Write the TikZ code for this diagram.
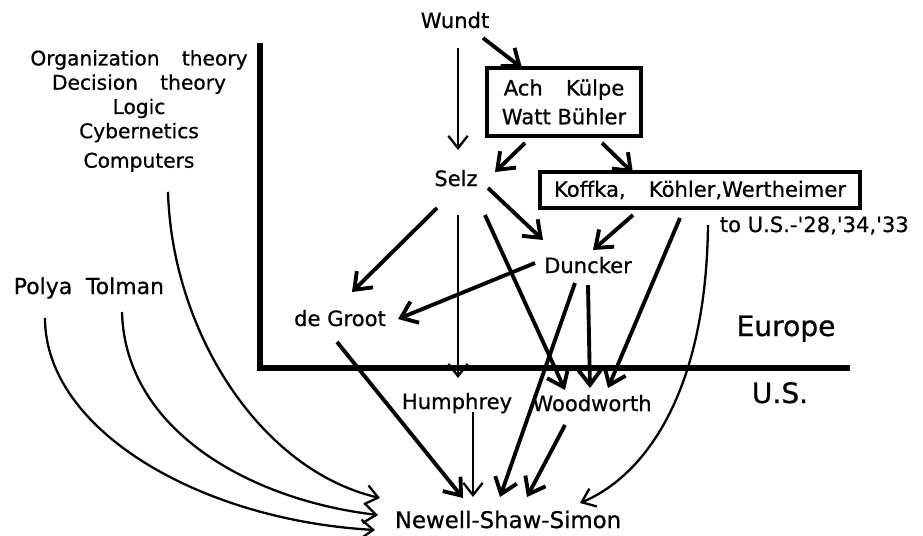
\documentclass[tikz,border=0pt]{standalone}
\usepackage{fontspec}
\setmainfont[FakeBold=0.7]{DejaVu Sans}
\usetikzlibrary{arrows.meta}

\tikzset{
  lbl/.style={font=\fontsize{12}{13}\selectfont, inner sep=2pt, text height=1.5ex, text depth=.25ex},
  groupbox/.style={font=\fontsize{12}{16.4}\selectfont, draw, line width=2.4pt, align=center, inner sep=2pt},
  link/.style={line width=2.2pt, -{Straight Barb[length=8.5pt,width=13pt]}},
  thinlink/.style={line width=1.3pt, -{Straight Barb[length=7pt,width=11pt]}},
  divider/.style={line width=3.6pt},
}

\begin{document}
\begin{tikzpicture}[x=0.02cm, y=-0.02cm]
\useasboundingbox (0,0) rectangle (923,536);

% Europe / U.S. frame
\draw[divider] (260,43) -- (260,368) -- (850,368);
\node[lbl, font=\fontsize{16}{18}\selectfont] (europe) at (786,330) {Europe};
\node[lbl, font=\fontsize{16}{18}\selectfont] (us) at (780,397) {U.S.};

% european side
\node[lbl] (wundt) at (455,22) {Wundt};
\node[groupbox, minimum width=3.08cm, minimum height=1.36cm] (wurzburg) at (564,102)
  {Ach\hspace{1.1em}Külpe\\Watt Bühler};
\node[lbl] (selz) at (456,180) {Selz};
\node[groupbox, minimum width=6.4cm, minimum height=0.72cm] (gestalt) at (700,190)
  {Koffka,\hspace{1.1em}Köhler,Wertheimer};
\node[lbl, anchor=west] (emigr) at (716,226) {to U.S.-\textquotesingle28,\textquotesingle34,\textquotesingle33};
\node[lbl] (duncker) at (588,267) {Duncker};
\node[lbl] (degroot) at (340,320) {de Groot};

% american side
\node[lbl] (humphrey) at (457,403) {Humphrey};
\node[lbl] (woodworth) at (592,405) {Woodworth};
\node[lbl, font=\fontsize{13}{14}\selectfont] (nss) at (508,522) {Newell-Shaw-Simon};

% other sources
\node[font=\fontsize{11.5}{13.8}\selectfont, align=center, inner sep=2pt] (fields) at (139,111)
  {Organization\hspace{1.1em}theory\\Decision\hspace{1.1em}theory\\Logic\\Cybernetics\\[3pt]Computers};
\node[lbl, font=\fontsize{12.5}{14}\selectfont] (polya) at (43,288) {Polya};
\node[lbl, font=\fontsize{12.5}{14}\selectfont] (tolman) at (125,288) {Tolman};

% influences
\draw[link] ([shift={(28,16)}]wundt.center) -- ([shift={(-42,-34)}]wurzburg.center);
\draw[thinlink] ([shift={(3,26)}]wundt.center) -- ([shift={(2,-30)}]selz.center);
\draw[link] ([shift={(-39,41)}]wurzburg.center) -- ([shift={(39,-8)}]selz.center);
\draw[link] ([shift={(38,41)}]wurzburg.center) -- ([shift={(-67,-17)}]gestalt.center);
\draw[link] ([shift={(32,8)}]selz.center) -- ([shift={(-45,-27)}]duncker.center);
\draw[link] ([shift={(-67,25)}]gestalt.center) -- ([shift={(5,-17)}]duncker.center);
\draw[link] ([shift={(-19,28)}]selz.center) -- ([shift={(12,-28)}]degroot.center);
\draw[link] ([shift={(-53,-4)}]duncker.center) -- ([shift={(58,-1)}]degroot.center);
\draw[thinlink] ([shift={(2,35)}]selz.center) -- ([shift={(1,-25)}]humphrey.center);
\draw[link] ([shift={(29,35)}]selz.center) -- ([shift={(-27,-15)}]woodworth.center);
\draw[link] ([shift={(-13,16)}]duncker.center) -- ([shift={(-8,-25)}]nss.center);
\draw[link] ([shift={(0,18)}]duncker.center) -- ([shift={(-2,-17)}]woodworth.center);
\draw[link] ([shift={(-20,28)}]gestalt.center) -- ([shift={(16,-17)}]woodworth.center);
\draw[thinlink] ([shift={(8,35)}]gestalt.center) .. controls +(-2,175) and +(60,-25) .. ([shift={(72,-19)}]nss.center);
\draw[link] ([shift={(-3,22)}]degroot.center) -- ([shift={(-45,-24)}]nss.center);
\draw[thinlink] ([shift={(16,9)}]humphrey.center) -- ([shift={(-35,-25)}]nss.center);
\draw[link] ([shift={(-27,20)}]woodworth.center) -- ([shift={(19,-25)}]nss.center);

% curves from the left
\draw[thinlink] ([shift={(29,16)}]fields.south) .. controls +(4,140) and +(-120,-28) .. ([shift={(-128,-24)}]nss.center);
\draw[thinlink] ([shift={(-3,24)}]tolman.center) .. controls +(3,118) and +(-128,-15) .. ([shift={(-130,-7)}]nss.center);
\draw[thinlink] ([shift={(2,30)}]polya.center) .. controls +(0,112) and +(-175,-10) .. ([shift={(-133,8)}]nss.center);
\end{tikzpicture}
\end{document}
